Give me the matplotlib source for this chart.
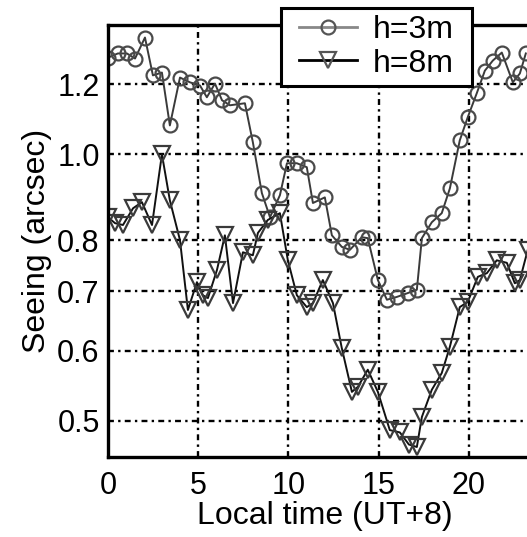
import numpy as np
import matplotlib
matplotlib.use('Agg')
from matplotlib import pyplot as plt
from matplotlib.patches import Rectangle
from matplotlib.ticker import FixedLocator, NullLocator, FixedFormatter

# h=3m seeing (circles)
t3 = [0.0, 0.55, 1.05, 1.5, 2.05, 2.49, 2.99, 3.43, 3.99, 4.54, 5.10, 5.48,
      5.93, 6.32, 6.76, 7.59, 8.03, 8.53, 8.98, 9.53, 9.92, 10.47, 11.02, 11.36,
      12.02, 12.41, 12.96, 13.41, 14.07, 14.40, 14.96, 15.46, 16.01, 16.62, 17.12, 17.40,
      17.95, 18.50, 18.95, 19.50, 19.94, 20.44, 20.89, 21.33, 21.83, 22.44, 22.83, 23.16]
s3 = [1.286, 1.30, 1.30, 1.283, 1.355, 1.228, 1.237, 1.078, 1.221, 1.206, 1.196, 1.16,
      1.202, 1.151, 1.136, 1.142, 1.032, 0.904, 0.849, 0.899, 0.977, 0.977, 0.967, 0.881,
      0.894, 0.81, 0.786, 0.78, 0.806, 0.804, 0.721, 0.685, 0.69, 0.697, 0.703, 0.804,
      0.838, 0.858, 0.915, 1.037, 1.101, 1.172, 1.243, 1.276, 1.303, 1.206, 1.234, 1.30]

# h=8m seeing (triangles)
t8 = [0.0, 0.39, 0.83, 1.39, 1.88, 2.44, 2.99, 3.43, 3.99, 4.43, 4.93, 5.26,
      5.54, 6.04, 6.48, 6.93, 7.48, 8.03, 8.31, 8.86, 9.53, 9.97, 10.47, 11.02,
      11.36, 11.91, 12.47, 12.96, 13.52, 13.85, 14.40, 14.96, 15.62, 16.18, 16.68, 17.12,
      17.40, 17.95, 18.50, 18.95, 19.50, 19.94, 20.50, 21.00, 21.55, 22.11, 22.55, 22.83, 23.27]
s8 = [0.849, 0.836, 0.832, 0.869, 0.883, 0.832, 1.0, 0.887, 0.80, 0.667, 0.717, 0.693,
      0.688, 0.74, 0.81, 0.679, 0.775, 0.769, 0.815, 0.843, 0.858, 0.759, 0.693, 0.672,
      0.679, 0.721, 0.679, 0.604, 0.539, 0.546, 0.571, 0.539, 0.488, 0.485, 0.47, 0.467,
      0.505, 0.542, 0.566, 0.606, 0.672, 0.681, 0.727, 0.734, 0.759, 0.754, 0.715, 0.721, 0.78]

yticks = [0.5, 0.6, 0.7, 0.8, 1.0, 1.2]
xticks = [0, 5, 10, 15, 20]

plt.rcParams['font.family'] = ['Liberation Sans', 'DejaVu Sans']
fs_tick = 22
fs_lab = 23

W, H = 527, 537
fig = plt.figure(figsize=(W / 100, H / 100), dpi=100)
ax = fig.add_axes([0.2049, 0.149, 0.8216, 0.8045])

ax.plot(t3, s3, '-', color='#3a3a3a', lw=1.4, marker='o', ms=10,
        mfc='none', mec='#4a4a4a', mew=1.6)
ax.plot(t8, s8, '-', color='#111111', lw=1.4, marker='v', ms=11,
        mfc='none', mec='#3a3a3a', mew=1.6)

ax.set_yscale('log')
ax.set_ylim(0.455, 1.40)
ax.set_xlim(0, 24)
ax.yaxis.set_major_locator(FixedLocator(yticks))
ax.yaxis.set_major_formatter(FixedFormatter(['%.1f' % v for v in yticks]))
ax.yaxis.set_minor_locator(NullLocator())
ax.set_xticks(xticks)

ax.grid(True, color='black', lw=1.7, linestyle=(0, (2.5, 1.8, 1.0, 1.8)))
ax.tick_params(axis='both', length=0, labelsize=fs_tick)
ax.tick_params(axis='x', pad=10)
ax.tick_params(axis='y', pad=6)
for sp in ax.spines.values():
    sp.set_linewidth(2.4)

ax.set_xlabel('Local time (UT+8)', fontsize=fs_lab, labelpad=0)
ax.set_ylabel('Seeing (arcsec)', fontsize=fs_lab, labelpad=4)

# legend box drawn by hand so that it can sit over the top spine
box = Rectangle((281 / W, 1 - 86 / H), 191 / W, 78 / H, transform=fig.transFigure,
                facecolor='white', edgecolor='black', lw=2.2, zorder=4)
fig.patches.append(box)

h3, = ax.plot([], [], '-', color='#888888', lw=2, marker='o', ms=10,
              mfc='none', mec='#555555', mew=1.6)
h8, = ax.plot([], [], '-', color='black', lw=2, marker='v', ms=11,
              mfc='none', mec='#555555', mew=1.6)
leg = fig.legend([h3, h8], ['h=3m', 'h=8m'], loc='center',
                 bbox_to_anchor=(376.5 / W, 1 - 47 / H), fontsize=fs_lab,
                 frameon=False, borderpad=0, labelspacing=0.1, handlelength=1.8,
                 handletextpad=0.5, borderaxespad=0)
leg.set_zorder(5)

fig.savefig('out.png', dpi=100)
